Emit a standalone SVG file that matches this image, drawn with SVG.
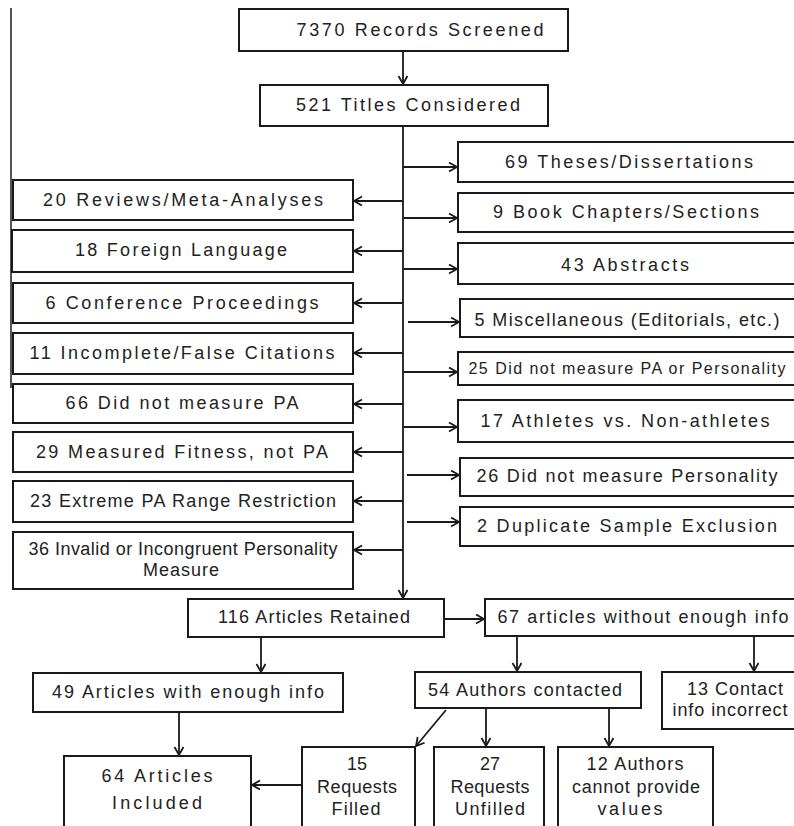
<svg xmlns="http://www.w3.org/2000/svg" width="794" height="826" viewBox="0 0 794 826">
<style>
.b{fill:#fff;stroke:#1a1a1a;stroke-width:2}
.t{font-family:"Liberation Sans",Arial,sans-serif;font-size:18px;fill:#222;text-anchor:middle;dominant-baseline:central}
.s{font-size:16px}
.c{fill:none;stroke:#1a1a1a;stroke-width:1.8;marker-end:url(#a)}
</style>
<defs>
<marker id="a" markerUnits="userSpaceOnUse" markerWidth="12" markerHeight="12" refX="9" refY="5" orient="auto">
<path d="M1,0.5 L9,5 L1,9.5" fill="none" stroke="#1a1a1a" stroke-width="1.8"/>
</marker>
</defs>
<rect width="794" height="826" fill="#fff"/>
<line x1="11" y1="8" x2="11" y2="388" stroke="#555" stroke-width="2"/>
<g id="connectors">
<line class="c" x1="403" y1="51" x2="403" y2="84"/>
<line class="c" x1="403" y1="126" x2="403" y2="598"/>
<line class="c" x1="403" y1="201" x2="354" y2="201"/>
<line class="c" x1="403" y1="251" x2="354" y2="251"/>
<line class="c" x1="403" y1="303" x2="354" y2="303"/>
<line class="c" x1="403" y1="353" x2="354" y2="353"/>
<line class="c" x1="403" y1="404" x2="354" y2="404"/>
<line class="c" x1="403" y1="452" x2="354" y2="452"/>
<line class="c" x1="403" y1="501" x2="354" y2="501"/>
<line class="c" x1="403" y1="550" x2="354" y2="550"/>
<line class="c" x1="403" y1="167" x2="457" y2="167"/>
<line class="c" x1="403" y1="218" x2="457" y2="218"/>
<line class="c" x1="403" y1="269" x2="457" y2="269"/>
<line class="c" x1="408" y1="322" x2="459" y2="322"/>
<line class="c" x1="403" y1="372" x2="457" y2="372"/>
<line class="c" x1="403" y1="427" x2="457" y2="427"/>
<line class="c" x1="407" y1="475" x2="459" y2="475"/>
<line class="c" x1="407" y1="522" x2="459" y2="522"/>
<line class="c" x1="444" y1="619" x2="484" y2="619"/>
<line class="c" x1="261" y1="637" x2="261" y2="672"/>
<line class="c" x1="179" y1="712" x2="179" y2="755"/>
<line class="c" x1="302" y1="785" x2="252" y2="785"/>
<line class="c" x1="517" y1="636" x2="517" y2="671"/>
<line class="c" x1="754" y1="636" x2="754" y2="671"/>
<line class="c" x1="446" y1="710" x2="416" y2="746"/>
<line class="c" x1="486" y1="708" x2="486" y2="746"/>
<line class="c" x1="609" y1="708" x2="609" y2="746"/>
</g>
<g id="n1"><rect class="b" x="239" y="9" width="329" height="42"/><text class="t" x="420" y="30" textLength="247">7370 Records Screened</text></g>
<g id="n2"><rect class="b" x="260" y="85" width="288" height="41"/><text class="t" x="408" y="105" textLength="224">521 Titles Considered</text></g>
<g id="l1"><rect class="b" x="13" y="180" width="340" height="40"/><text class="t" x="183" y="200" textLength="280">20 Reviews/Meta-Analyses</text></g>
<g id="l2"><rect class="b" x="12" y="230" width="341" height="42"/><text class="t" x="181" y="250" textLength="212">18 Foreign Language</text></g>
<g id="l3"><rect class="b" x="13" y="283" width="340" height="40"/><text class="t" x="182" y="303" textLength="273">6 Conference Proceedings</text></g>
<g id="l4"><rect class="b" x="13" y="333" width="340" height="41"/><text class="t" x="182" y="353" textLength="305">11 Incomplete/False Citations</text></g>
<g id="l5"><rect class="b" x="13" y="384" width="340" height="39"/><text class="t" x="182" y="403" textLength="233">66 Did not measure PA</text></g>
<g id="l6"><rect class="b" x="13" y="432" width="340" height="40"/><text class="t" x="182" y="452" textLength="292">29 Measured Fitness, not PA</text></g>
<g id="l7"><rect class="b" x="13" y="481" width="340" height="41"/><text class="t" x="183" y="501" textLength="306">23 Extreme PA Range Restriction</text></g>
<g id="l8"><rect class="b" x="13" y="532" width="340" height="57"/><text class="t" x="183" y="549" textLength="309">36 Invalid or Incongruent Personality</text><text class="t" x="181" y="570" textLength="76">Measure</text></g>
<g id="r1"><rect class="b" x="458" y="142" width="345" height="40"/><text class="t" x="629" y="162" textLength="248">69 Theses/Dissertations</text></g>
<g id="r2"><rect class="b" x="458" y="193" width="345" height="39"/><text class="t" x="626" y="212" textLength="266">9 Book Chapters/Sections</text></g>
<g id="r3"><rect class="b" x="458" y="243" width="345" height="41"/><text class="t" x="625" y="265" textLength="128">43 Abstracts</text></g>
<g id="r4"><rect class="b" x="460" y="299" width="345" height="38"/><text class="t" x="627" y="320" textLength="305">5 Miscellaneous (Editorials, etc.)</text></g>
<g id="r5"><rect class="b" x="458" y="352" width="345" height="33"/><text class="t s" x="627" y="368" textLength="317">25 Did not measure PA or Personality</text></g>
<g id="r6"><rect class="b" x="458" y="400" width="345" height="42"/><text class="t" x="625" y="421" textLength="289">17 Athletes vs. Non-athletes</text></g>
<g id="r7"><rect class="b" x="460" y="458" width="345" height="38"/><text class="t" x="627" y="476" textLength="301">26 Did not measure Personality</text></g>
<g id="r8"><rect class="b" x="460" y="507" width="345" height="39"/><text class="t" x="627" y="526" textLength="300">2 Duplicate Sample Exclusion</text></g>
<g id="n116"><rect class="b" x="188" y="599" width="256" height="38"/><text class="t" x="314" y="617" textLength="192">116 Articles Retained</text></g>
<g id="n67"><rect class="b" x="485" y="599" width="320" height="37"/><text class="t" x="643" y="617" textLength="291">67 articles without enough info</text></g>
<g id="n49"><rect class="b" x="33" y="673" width="310" height="39"/><text class="t" x="188" y="692" textLength="272">49 Articles with enough  info</text></g>
<g id="n54"><rect class="b" x="415" y="672" width="226" height="36"/><text class="t" x="525" y="690" textLength="194">54 Authors contacted</text></g>
<g id="n13"><rect class="b" x="662" y="672" width="145" height="57"/><text class="t" x="735" y="689" textLength="96">13 Contact</text><text class="t" x="730" y="710" textLength="115">info incorrect</text></g>
<g id="n64"><rect class="b" x="64" y="756" width="187" height="72"/><text class="t" x="157" y="776" textLength="111">64 Articles</text><text class="t" x="157" y="803" textLength="90">Included</text></g>
<g id="n15"><rect class="b" x="302" y="747" width="113" height="82"/><text class="t" x="357" y="764">15</text><text class="t" x="357" y="787" textLength="80">Requests</text><text class="t" x="356" y="809" textLength="49">Filled</text></g>
<g id="n27"><rect class="b" x="434" y="747" width="110" height="82"/><text class="t" x="490" y="764">27</text><text class="t" x="490" y="787" textLength="79">Requests</text><text class="t" x="490" y="809" textLength="70">Unfilled</text></g>
<g id="n12"><rect class="b" x="558" y="747" width="155" height="82"/><text class="t" x="635" y="764" textLength="97">12 Authors</text><text class="t" x="636" y="787" textLength="128">cannot provide</text><text class="t" x="630" y="809" textLength="65">values</text></g>
</svg>
